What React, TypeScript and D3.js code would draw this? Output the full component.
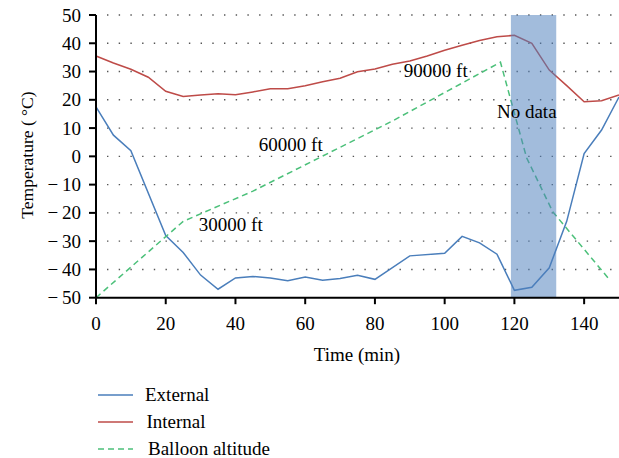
import React, { useRef, useEffect } from 'react';
import * as d3 from 'd3';

// External temperature
const extTime = [0, 5, 10, 20, 25, 30, 35, 40, 45, 50, 55, 60, 65, 70, 75, 80, 90, 100, 105, 110, 115, 120, 125, 130, 135, 140, 145, 150];
const extTemp = [17.5, 7.5, 2, -28, -34, -42, -47, -43, -42.5, -43, -44, -42.7, -43.8, -43.2, -42.1, -43.5, -35.2, -34.3, -28.3, -30.6, -34.6, -47.4, -46.3, -39.4, -23, 1, 9.3, 21];

// Internal temperature
const intTime = [0, 5, 10, 15, 20, 25, 30, 35, 40, 45, 50, 55, 60, 65, 70, 75, 80, 85, 90, 95, 100, 105, 110, 115, 120, 125, 130, 135, 140, 145, 150];
const intTemp = [35.5, 33, 30.8, 28, 23, 21.2, 21.7, 22.1, 21.8, 22.8, 23.9, 23.9, 25, 26.4, 27.6, 29.9, 30.9, 32.6, 33.7, 35.5, 37.5, 39.3, 41, 42.3, 42.8, 40, 30.5, 25, 19.3, 19.7, 21.7];

// Balloon altitude, drawn on the temperature scale
const altTime = [0, 25, 45, 85, 116, 123.5, 131, 147];
const altValue = [-50, -23, -12.3, 12.5, 33.3, -0.5, -19.6, -43.2];

// No data window
const gapStart = 119;
const gapEnd = 132;

const xTicks = [0, 20, 40, 60, 80, 100, 120, 140];
const yTicks = [-50, -40, -30, -20, -10, 0, 10, 20, 30, 40, 50];

const notes = [
  { text: '30000 ft', t: 29.5, v: -26.5 },
  { text: '60000 ft', t: 46.7, v: 1.9 },
  { text: '90000 ft', t: 88.3, v: 28 },
];
const gapNote = { text: 'No data', t: 115, v: 13.5 };

const legendItems = [
  { name: 'External', color: '#4a7ebb', dash: null },
  { name: 'Internal', color: '#be4b48', dash: null },
  { name: 'Balloon altitude', color: '#4cc07a', dash: '6 4' },
];

function App() {
  const chartRef = useRef<SVGSVGElement>(null);

  useEffect(() => {
    const width = 619;
    const font = 'Liberation Serif, DejaVu Serif, serif';
    const fs = 19;

    const svg = d3.select(chartRef.current);
    svg.selectAll('*').remove();

    const x = d3.scaleLinear().domain([0, 150]).range([96, 619]);
    const y = d3.scaleLinear().domain([-50, 50]).range([297.7, 15]);

    // dotted grid
    svg.append('g')
      .selectAll('line')
      .data(yTicks.filter(d => d > -50))
      .enter().append('line')
      .attr('x1', x(0) + 11)
      .attr('x2', width)
      .attr('y1', d => y(d))
      .attr('y2', d => y(d))
      .attr('stroke', '#555')
      .attr('stroke-width', 1.4)
      .attr('stroke-dasharray', '1.4 10.3');

    const line = d3.line<[number, number]>()
      .x(d => x(d[0]))
      .y(d => y(d[1]));

    svg.append('path')
      .datum(extTime.map((t, i) => [t, extTemp[i]] as [number, number]))
      .attr('d', line)
      .attr('fill', 'none')
      .attr('stroke', legendItems[0].color)
      .attr('stroke-width', 1.5);

    svg.append('path')
      .datum(intTime.map((t, i) => [t, intTemp[i]] as [number, number]))
      .attr('d', line)
      .attr('fill', 'none')
      .attr('stroke', legendItems[1].color)
      .attr('stroke-width', 1.5);

    svg.append('path')
      .datum(altTime.map((t, i) => [t, altValue[i]] as [number, number]))
      .attr('d', line)
      .attr('fill', 'none')
      .attr('stroke', legendItems[2].color)
      .attr('stroke-width', 1.5)
      .attr('stroke-dasharray', '6 4');

    // shaded band over the lines
    svg.append('rect')
      .attr('x', x(gapStart))
      .attr('y', y(50))
      .attr('width', x(gapEnd) - x(gapStart))
      .attr('height', y(-50) - y(50))
      .attr('fill', '#4f81bd')
      .attr('fill-opacity', 0.53);

    // axes
    const xAxis = svg.append('g').attr('transform', `translate(0,${y(-50)})`);
    xAxis.append('line')
      .attr('x1', x(0) - 1).attr('x2', width)
      .attr('stroke', '#000').attr('stroke-width', 2);
    xAxis.selectAll('.tick')
      .data(xTicks)
      .enter().append('line')
      .attr('x1', d => x(d)).attr('x2', d => x(d))
      .attr('y1', 0).attr('y2', 6.5)
      .attr('stroke', '#000').attr('stroke-width', 2);
    xAxis.selectAll('text')
      .data(xTicks)
      .enter().append('text')
      .attr('x', d => x(d))
      .attr('y', 32)
      .attr('text-anchor', 'middle')
      .attr('font-family', font)
      .attr('font-size', fs)
      .text(d => d);

    const yAxis = svg.append('g');
    yAxis.append('line')
      .attr('x1', x(0)).attr('x2', x(0))
      .attr('y1', y(50)).attr('y2', y(-50))
      .attr('stroke', '#000').attr('stroke-width', 2);
    yAxis.selectAll('.tick')
      .data(yTicks)
      .enter().append('line')
      .attr('x1', x(0) - 7).attr('x2', x(0))
      .attr('y1', d => y(d)).attr('y2', d => y(d))
      .attr('stroke', '#000').attr('stroke-width', 2);
    yAxis.selectAll('text')
      .data(yTicks)
      .enter().append('text')
      .attr('x', x(0) - 15)
      .attr('y', d => y(d) + 6.5)
      .attr('text-anchor', 'end')
      .attr('font-family', font)
      .attr('font-size', fs)
      .text(d => (d < 0 ? '\u2212\u2009' + Math.abs(d) : String(d)));

    // axis titles
    svg.append('text')
      .attr('transform', `translate(33,155) rotate(-90)`)
      .attr('text-anchor', 'middle')
      .attr('font-family', font)
      .attr('font-size', 17.5)
      .text('Temperature ( \u00B0C)');

    svg.append('text')
      .attr('x', 357)
      .attr('y', 361)
      .attr('text-anchor', 'middle')
      .attr('font-family', font)
      .attr('font-size', fs)
      .text('Time (min)');

    // annotations
    svg.append('g')
      .selectAll('text')
      .data([...notes, gapNote])
      .enter().append('text')
      .attr('x', d => x(d.t))
      .attr('y', d => y(d.v))
      .attr('font-family', font)
      .attr('font-size', fs)
      .text(d => d.text);

    // legend
    const legend = svg.append('g');
    legendItems.forEach((item, i) => {
      const ly = 395 + i * 27;
      legend.append('line')
        .attr('x1', 98).attr('x2', 133)
        .attr('y1', ly).attr('y2', ly)
        .attr('stroke', item.color)
        .attr('stroke-width', 1.6)
        .attr('stroke-dasharray', item.dash);
      legend.append('text')
        .attr('x', 145 + i * 1.5)
        .attr('y', ly + 6)
        .attr('font-family', font)
        .attr('font-size', fs)
        .text(item.name);
    });
  }, []);

  return (
    <svg
      ref={chartRef}
      width={619}
      height={458}
      style={{ position: 'absolute', left: 0, top: 0, background: '#fff' }}
    ></svg>
  );
}

export default App;
